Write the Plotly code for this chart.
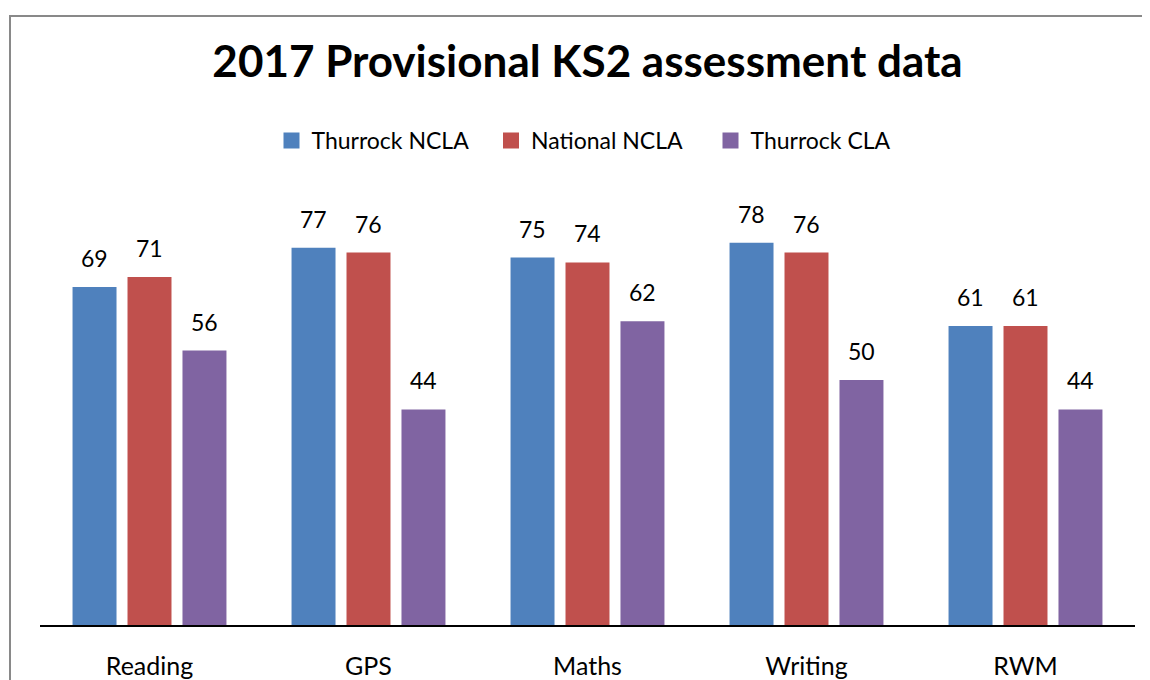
import plotly.graph_objects as go

categories = ["Reading", "GPS", "Maths", "Writing", "RWM"]
thurrock_ncla = [69, 77, 75, 78, 61]
national_ncla = [71, 76, 74, 76, 61]
thurrock_cla = [56, 44, 62, 50, 44]
series_names = ["Thurrock NCLA", "National NCLA", "Thurrock CLA"]
colors = ["#4F81BD", "#C0504D", "#8064A2"]

FONT = "Lato, Carlito, Calibri, sans-serif"
series = [thurrock_ncla, national_ncla, thurrock_cla]

# page body has an 8px default margin; lay out in figure coords offset by it
OFF = 8
L, T = 40 - OFF, 184 - OFF
PW, PH = 1095, 441
W, H = 1150, 680
R = W - L - PW
B = H - T - PH

fig = go.Figure()
for name, vals, col in zip(series_names, series, colors):
    fig.add_trace(go.Bar(x=categories, y=vals, name=name, marker_color=col,
                         marker_line_width=0, showlegend=False, legendgroup=name))
# legend entries with larger square swatches
for name, col in zip(series_names, colors):
    fig.add_trace(go.Scatter(x=[None], y=[None], mode="markers", name=name,
                             legendgroup=name,
                             marker=dict(symbol="square", size=16, color=col,
                                         line=dict(width=0))))

annotations = []
shifts = [-55, 0, 55]
for vals, sh in zip(series, shifts):
    for c, v in zip(categories, vals):
        annotations.append(dict(x=c, y=v, text=str(v), showarrow=False,
                                xshift=sh, yshift=13, yanchor="bottom",
                                font=dict(family=FONT, size=23, color="#000")))

fig.update_layout(
    width=W, height=H,
    margin=dict(l=L, r=R, t=T, b=B, autoexpand=False),
    paper_bgcolor="white", plot_bgcolor="white",
    barmode="group", bargap=0.247, bargroupgap=0.2,
    title=dict(text="<b>2017 Provisional KS2 assessment data</b>",
               x=0.5, xref="paper", xanchor="center", y=1 - (62 - OFF)/H, yanchor="middle",
               font=dict(family=FONT, size=44, color="#000")),
    legend=dict(orientation="h", x=0.5 + 13.5/PW, xanchor="center", xref="paper",
                y=1 + (184-140.5)/PH, yanchor="middle", yref="paper",
                font=dict(family=FONT, size=23, color="#000"),
                itemwidth=30, tracegroupgap=0, entrywidth=174.5,
                itemsizing="trace", itemclick=False, itemdoubleclick=False),
    xaxis=dict(showline=True, linecolor="#000", linewidth=2, ticks="",
               tickfont=dict(family=FONT, size=25, color="#000"),
               showgrid=False, zeroline=False, ticklabelstandoff=18, automargin=False,
               categoryorder="array", categoryarray=categories),
    yaxis=dict(range=[0, 90], visible=False, showgrid=False, zeroline=False, automargin=False),
    annotations=annotations,
    shapes=[dict(type="rect", xref="paper", yref="paper",
                 x0=(10-40)/PW, x1=(1170-40)/PW,
                 y0=-0.3, y1=(625-16)/PH,
                 line=dict(color="#898989", width=2), fillcolor="rgba(0,0,0,0)",
                 layer="below")],
    showlegend=True,
)
fig.write_html("out.html")
